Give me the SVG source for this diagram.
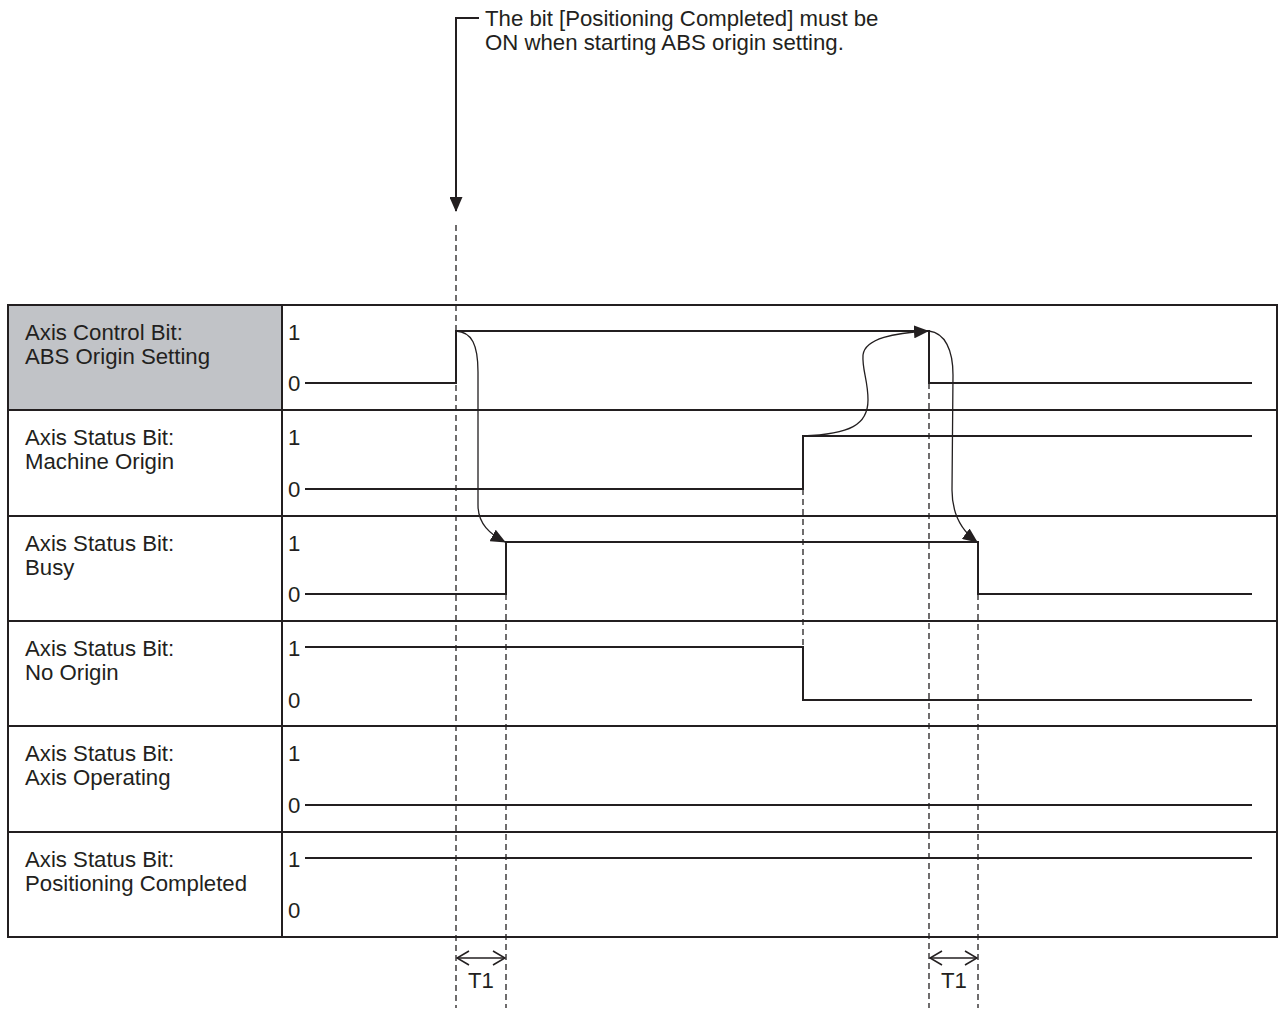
<svg xmlns="http://www.w3.org/2000/svg" width="1281" height="1012" viewBox="0 0 1281 1012">
<style>
  text { font-family: "Liberation Sans", Arial, sans-serif; font-size: 22.2px; fill: #231f20; }
  .cell { fill: #ffffff; stroke: #231f20; stroke-width: 2; }
  .gray { fill: #c1c3c7; }
  .sig { fill: none; stroke: #231f20; stroke-width: 2; }
  .dash { fill: none; stroke: #231f20; stroke-width: 1.3; stroke-dasharray: 6 4; }
  .curve { fill: none; stroke: #231f20; stroke-width: 1.3; }
  .lead { fill: none; stroke: #231f20; stroke-width: 2; }
  .dim { fill: none; stroke: #231f20; stroke-width: 1.6; }
</style>
<defs>
  <marker id="tri" markerUnits="userSpaceOnUse" markerWidth="15" markerHeight="13" viewBox="0 0 15 13" refX="14" refY="6.5" orient="auto">
    <path d="M0,0 L15,6.5 L0,13 Z" fill="#231f20"/>
  </marker>
  <marker id="chev" markerUnits="userSpaceOnUse" markerWidth="14" markerHeight="16" viewBox="0 0 14 16" refX="13" refY="8" orient="auto-start-reverse">
    <path d="M1,1 L13,8 L1,15" fill="none" stroke="#231f20" stroke-width="1.6"/>
  </marker>
</defs>

<g id="annotation">
  <path class="lead" d="M479,18 L456,18 L456,211" marker-end="url(#tri)"/>
  <text x="485" y="26">The bit [Positioning Completed] must be</text>
  <text x="485" y="50">ON when starting ABS origin setting.</text>
</g>

<g id="row-abs-origin-setting">
  <rect class="cell gray" x="8" y="305" width="274" height="105"/>
  <rect class="cell" x="282" y="305" width="995" height="105"/>
  <text x="25" y="340">Axis Control Bit:</text>
  <text x="25" y="364">ABS Origin Setting</text>
  <text x="288" y="340">1</text>
  <text x="288" y="391">0</text>
  <path class="sig" d="M305,383 L456,383 L456,331 L929,331 L929,383 L1252,383"/>
</g>

<g id="row-machine-origin">
  <rect class="cell" x="8" y="410" width="274" height="106"/>
  <rect class="cell" x="282" y="410" width="995" height="106"/>
  <text x="25" y="445">Axis Status Bit:</text>
  <text x="25" y="469">Machine Origin</text>
  <text x="288" y="445">1</text>
  <text x="288" y="497">0</text>
  <path class="sig" d="M305,489 L803,489 L803,436 L1252,436"/>
</g>

<g id="row-busy">
  <rect class="cell" x="8" y="516" width="274" height="105"/>
  <rect class="cell" x="282" y="516" width="995" height="105"/>
  <text x="25" y="551">Axis Status Bit:</text>
  <text x="25" y="575">Busy</text>
  <text x="288" y="551">1</text>
  <text x="288" y="602">0</text>
  <path class="sig" d="M305,594 L506,594 L506,542 L978,542 L978,594 L1252,594"/>
</g>

<g id="row-no-origin">
  <rect class="cell" x="8" y="621" width="274" height="105"/>
  <rect class="cell" x="282" y="621" width="995" height="105"/>
  <text x="25" y="656">Axis Status Bit:</text>
  <text x="25" y="680">No Origin</text>
  <text x="288" y="656">1</text>
  <text x="288" y="708">0</text>
  <path class="sig" d="M305,647 L803,647 L803,700 L1252,700"/>
</g>

<g id="row-axis-operating">
  <rect class="cell" x="8" y="726" width="274" height="106"/>
  <rect class="cell" x="282" y="726" width="995" height="106"/>
  <text x="25" y="761">Axis Status Bit:</text>
  <text x="25" y="785">Axis Operating</text>
  <text x="288" y="761">1</text>
  <text x="288" y="813">0</text>
  <path class="sig" d="M305,805 L1252,805"/>
</g>

<g id="row-positioning-completed">
  <rect class="cell" x="8" y="832" width="274" height="105"/>
  <rect class="cell" x="282" y="832" width="995" height="105"/>
  <text x="25" y="867">Axis Status Bit:</text>
  <text x="25" y="891">Positioning Completed</text>
  <text x="288" y="867">1</text>
  <text x="288" y="918">0</text>
  <path class="sig" d="M305,858 L1252,858"/>
</g>

<g id="connectors">
  <path class="dash" d="M456,225 L456,1008"/>
  <path class="dash" d="M506,594 L506,1008"/>
  <path class="dash" d="M803,489 L803,647"/>
  <path class="dash" d="M929,383 L929,1008"/>
  <path class="dash" d="M978,594 L978,1008"/>
  <path class="curve" d="M456,331 C472,332 478,345 478,372 L478,505 C478,524 490,534 505,542" marker-end="url(#tri)"/>
  <path class="curve" d="M803,436 C850,434 868,425 868,400 C868,380 862,370 863,355 C865,338 895,333 928,331" marker-end="url(#tri)"/>
  <path class="curve" d="M929,331 C945,333 953,350 953,375 L952,490 C952,515 962,531 977,542" marker-end="url(#tri)"/>
  <path class="dim" d="M457,958 L505,958" marker-start="url(#chev)" marker-end="url(#chev)"/>
  <path class="dim" d="M930,958 L977,958" marker-start="url(#chev)" marker-end="url(#chev)"/>
  <text x="481" y="988" text-anchor="middle">T1</text>
  <text x="954" y="988" text-anchor="middle">T1</text>
</g>
</svg>
